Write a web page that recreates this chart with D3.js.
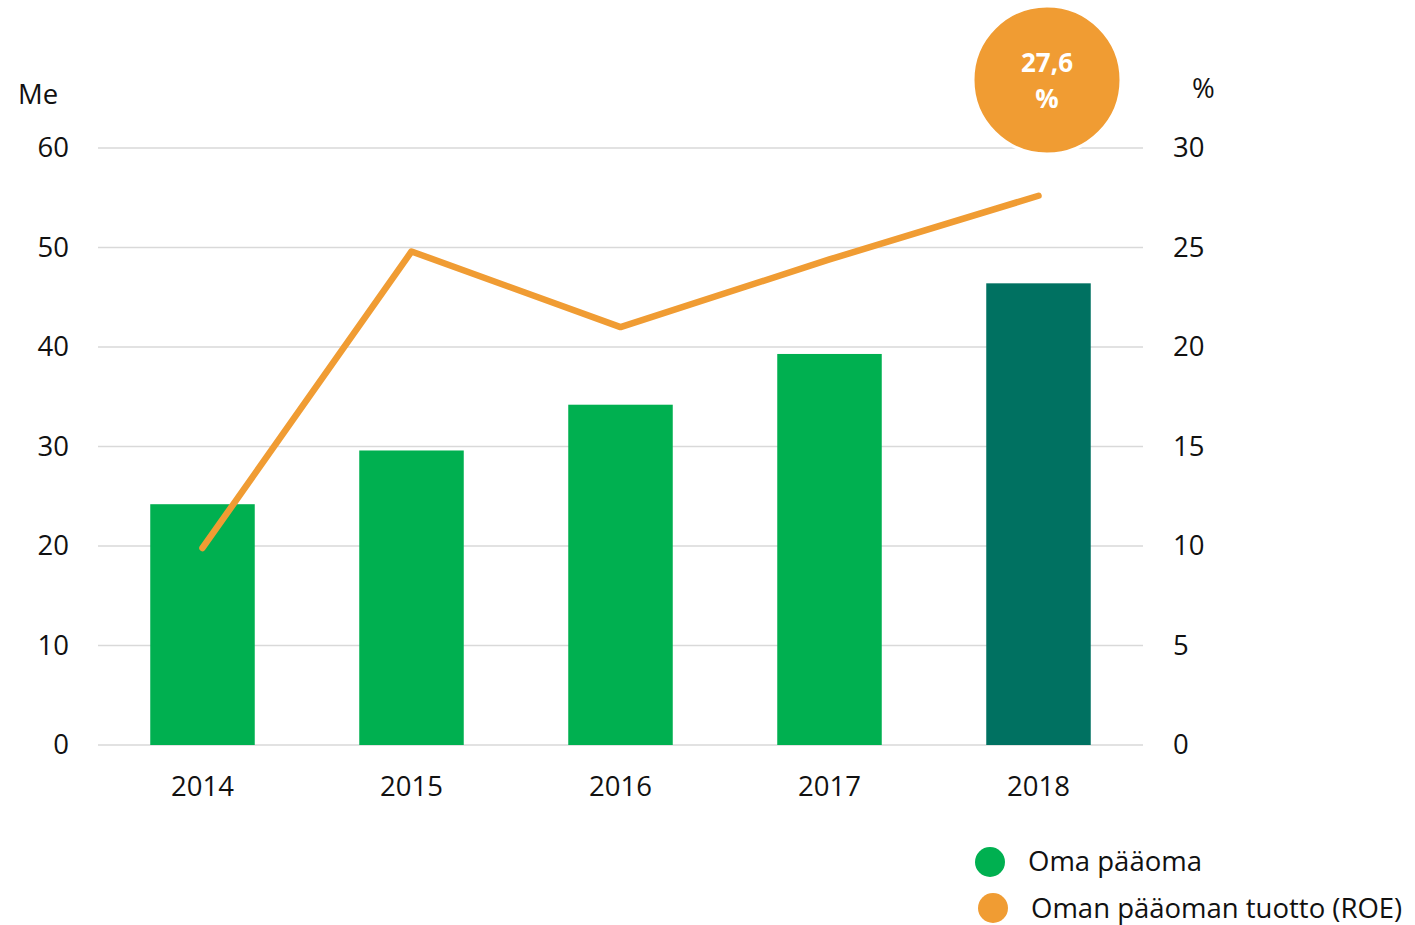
<!DOCTYPE html>
<html>
<head>
<meta charset="utf-8">
<script src="https://cdn.jsdelivr.net/npm/d3@7"></script>
<style>
  body { margin: 0; background: #fff; }
  svg text { font-family: "Open Sans", sans-serif; fill: #111; }
</style>
</head>
<body>
<div id="chart"></div>
<script>
// chart data
const years = ['2014', '2015', '2016', '2017', '2018'];
const equity = [24.2, 29.6, 34.2, 39.3, 46.4];      // Me
const roe = [9.9, 24.8, 21.0, 24.4, 27.6];          // %
const leftTicks = [0, 10, 20, 30, 40, 50, 60];
const rightTicks = [0, 5, 10, 15, 20, 25, 30];
const legendLabels = ['Oma pääoma', 'Oman pääoman tuotto (ROE)'];

const green = '#00B050', darkGreen = '#007161', orange = '#F09C33', gridColor = '#D9D9D9';
const fontSize = 27.5;

const width = 1415, height = 925;
const svg = d3.select('#chart').append('svg')
    .attr('width', width)
    .attr('height', height);

const x = d3.scaleBand()
    .domain(years)
    .range([98, 1143])
    .paddingInner(0.5)
    .paddingOuter(0.25);

const yLeft = d3.scaleLinear().domain([0, 60]).range([745, 148]);
const yRight = d3.scaleLinear().domain([0, 30]).range([745, 148]);

// gridlines
svg.append('g').selectAll('line')
    .data(leftTicks)
    .enter().append('line')
    .attr('x1', 98).attr('x2', 1143)
    .attr('y1', d => yLeft(d)).attr('y2', d => yLeft(d))
    .attr('stroke', gridColor)
    .attr('stroke-width', 1.5);

// left axis
const leftAxis = svg.append('g')
    .attr('transform', 'translate(69,0)')
    .call(d3.axisLeft(yLeft).tickValues(leftTicks).tickSize(0).tickPadding(0));
leftAxis.select('.domain').remove();
leftAxis.selectAll('text').attr('font-size', fontSize).attr('font-family', '"Open Sans", sans-serif').attr('fill', '#111');

// right axis
const rightAxis = svg.append('g')
    .attr('transform', 'translate(1173,0)')
    .call(d3.axisRight(yRight).tickValues(rightTicks).tickSize(0).tickPadding(0));
rightAxis.select('.domain').remove();
rightAxis.selectAll('text').attr('font-size', fontSize).attr('font-family', '"Open Sans", sans-serif').attr('fill', '#111');

// x axis
const xAxis = svg.append('g')
    .attr('transform', 'translate(0,776)')
    .call(d3.axisBottom(x).tickSize(0).tickPadding(0));
xAxis.select('.domain').remove();
xAxis.selectAll('text').attr('font-size', fontSize).attr('dy', '0.71em').attr('font-family', '"Open Sans", sans-serif').attr('fill', '#111');

// unit labels
svg.append('text').attr('x', 18).attr('y', 104).attr('font-size', fontSize).text('Me');
svg.append('text').attr('x', 1192).attr('y', 98).attr('font-size', fontSize).text('%');

// bars
svg.append('g').selectAll('rect')
    .data(equity)
    .enter().append('rect')
    .attr('x', (d, i) => x(years[i]))
    .attr('y', d => yLeft(d))
    .attr('width', x.bandwidth())
    .attr('height', d => yLeft(0) - yLeft(d))
    .attr('fill', (d, i) => i === years.length - 1 ? darkGreen : green);

// ROE line
const line = d3.line()
    .x((d, i) => x(years[i]) + x.bandwidth() / 2)
    .y(d => yRight(d));

svg.append('path')
    .datum(roe)
    .attr('d', line)
    .attr('fill', 'none')
    .attr('stroke', orange)
    .attr('stroke-width', 6.5)
    .attr('stroke-linecap', 'round')
    .attr('stroke-linejoin', 'round');

// callout bubble
const last = roe[roe.length - 1];
const bubble = svg.append('g').attr('transform', 'translate(1047,80)');
bubble.append('circle')
    .attr('r', 74)
    .attr('fill', orange)
    .attr('stroke', '#fff')
    .attr('stroke-width', 3);
bubble.append('text')
    .attr('text-anchor', 'middle')
    .attr('y', -8)
    .attr('font-size', 26)
    .attr('font-weight', 'bold')
    .style('fill', '#fff')
    .text(d3.format('.1f')(last).replace('.', ','));
bubble.append('text')
    .attr('text-anchor', 'middle')
    .attr('y', 28)
    .attr('font-size', 26)
    .attr('font-weight', 'bold')
    .style('fill', '#fff')
    .text('%');

// legend
const legend = svg.append('g');
const legendRows = [
    { label: legendLabels[0], color: green, cx: 990, cy: 862, tx: 1028, ty: 871 },
    { label: legendLabels[1], color: orange, cx: 993, cy: 908, tx: 1031, ty: 918 }
];
legendRows.forEach(r => {
    legend.append('circle').attr('cx', r.cx).attr('cy', r.cy).attr('r', 15).attr('fill', r.color);
    legend.append('text').attr('x', r.tx).attr('y', r.ty).attr('font-size', fontSize).text(r.label);
});
</script>
</body>
</html>
